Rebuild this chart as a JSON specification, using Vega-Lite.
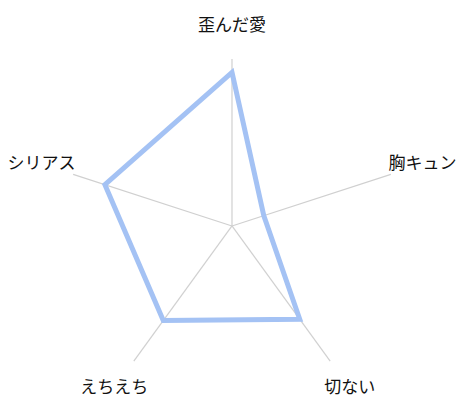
{
  "$schema": "https://vega.github.io/schema/vega-lite/v6.json",
  "width": 469,
  "height": 402,
  "autosize": "none",
  "padding": 0,
  "config": {"view": {"stroke": null}},
  "data": {
    "values": [
      {"key": "歪んだ愛", "idx": 0, "value": 0.92},
      {"key": "胸キュン", "idx": 1, "value": 0.2},
      {"key": "切ない", "idx": 2, "value": 0.69},
      {"key": "えちえち", "idx": 3, "value": 0.7},
      {"key": "シリアス", "idx": 4, "value": 0.8}
    ]
  },
  "transform": [
    {"calculate": "PI / 2 - datum.idx * 2 * PI / 5", "as": "angle"},
    {"calculate": "cos(datum.angle)", "as": "ax"},
    {"calculate": "sin(datum.angle)", "as": "ay"},
    {"calculate": "datum.value * datum.ax", "as": "px"},
    {"calculate": "datum.value * datum.ay", "as": "py"},
    {"calculate": "1.2 * datum.ax", "as": "lx"},
    {"calculate": "1.2 * datum.ay", "as": "ly"}
  ],
  "encoding": {
    "x": {"type": "quantitative", "scale": {"domain": [-1.389, 1.419], "nice": false, "zero": false}, "axis": null},
    "y": {"type": "quantitative", "scale": {"domain": [-1.054, 1.353], "nice": false, "zero": false}, "axis": null}
  },
  "layer": [
    {
      "mark": {"type": "rule", "color": "#d0d0d0", "strokeWidth": 1.2},
      "encoding": {
        "x": {"field": "ax", "type": "quantitative"},
        "y": {"field": "ay", "type": "quantitative"},
        "x2": {"datum": 0},
        "y2": {"datum": 0}
      }
    },
    {
      "mark": {"type": "line", "color": "#a4c2f4", "strokeWidth": 5, "interpolate": "linear-closed"},
      "encoding": {
        "x": {"field": "px", "type": "quantitative"},
        "y": {"field": "py", "type": "quantitative"},
        "order": {"field": "idx"}
      }
    },
    {
      "mark": {"type": "text", "font": "Noto Sans CJK JP", "fontSize": 17, "color": "#111111", "align": "center", "baseline": "middle"},
      "encoding": {
        "x": {"field": "lx", "type": "quantitative"},
        "y": {"field": "ly", "type": "quantitative"},
        "text": {"field": "key"}
      }
    }
  ]
}
